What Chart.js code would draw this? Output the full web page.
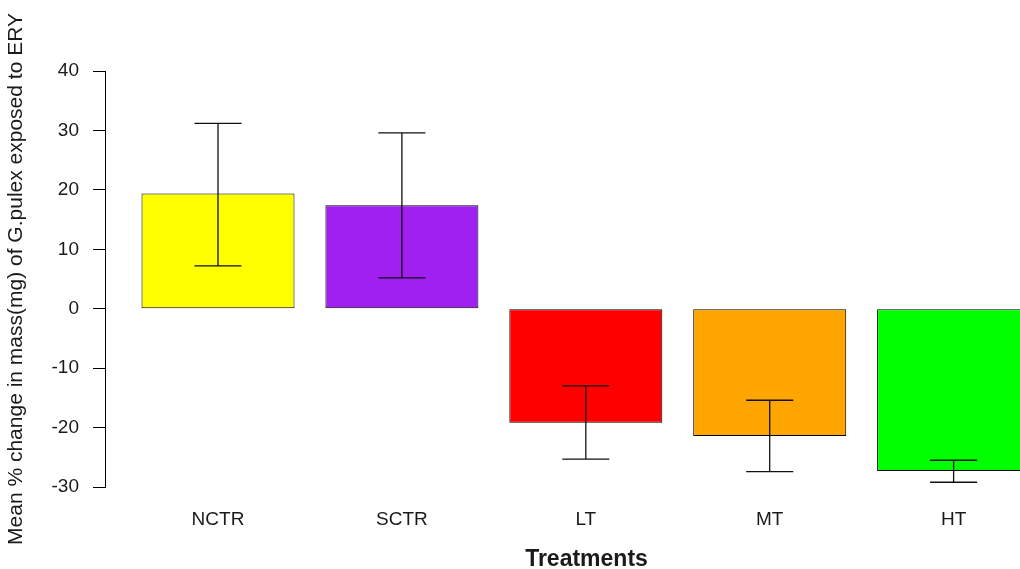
<!DOCTYPE html>
<html>
<head>
<meta charset="utf-8">
<title>Mean % change in mass of G.pulex</title>
<script src="https://cdn.jsdelivr.net/npm/chart.js@4/dist/chart.umd.min.js"></script>
<style>
  html, body { margin: 0; padding: 0; background: #fff; overflow: hidden; width: 1020px; height: 569px; }
  /* the plot region runs past the right edge, like the cropped original */
  #wrap { position: relative; width: 1068px; height: 569px; }
</style>
</head>
<body>
<div id="wrap"><canvas id="chart"></canvas></div>
<script>
const categories = ['NCTR', 'SCTR', 'LT', 'MT', 'HT'];
const means = [19.4, 17.4, -19.2, -21.4, -27.3];
const errHigh = [31.2, 29.6, -13.0, -15.4, -25.5];
const errLow = [7.2, 5.2, -25.3, -27.4, -29.2];
const barColors = ['#FFFF00', '#A020F0', '#FF0000', '#FFA500', '#00FF00'];
const yTicks = { min: -30, max: 40, step: 10 };

const FONT = "'Liberation Sans', Arial, Helvetica, sans-serif";
const CAP_HALF = 0.128; // half width of whisker caps, in category units

// error bars (R arrows with angle=90)
const errorBars = {
  id: 'errorBars',
  afterDatasetsDraw(chart) {
    const { ctx, scales: { x, y } } = chart;
    ctx.save();
    ctx.strokeStyle = '#111';
    ctx.lineWidth = 1.3;
    categories.forEach((c, i) => {
      const px = x.getPixelForValue(i);
      const yHi = y.getPixelForValue(errHigh[i]);
      const yLo = y.getPixelForValue(errLow[i]);
      const l = x.getPixelForValue(i - CAP_HALF);
      const r = x.getPixelForValue(i + CAP_HALF);
      ctx.beginPath();
      ctx.moveTo(px, yHi); ctx.lineTo(px, yLo);
      ctx.moveTo(l, yHi); ctx.lineTo(r, yHi);
      ctx.moveTo(l, yLo); ctx.lineTo(r, yLo);
      ctx.stroke();
    });
    ctx.restore();
  },
};

const ctx = document.getElementById('chart').getContext('2d');
new Chart(ctx, {
  type: 'bar',
  data: {
    datasets: [{
      data: means.map((v, i) => ({ x: i, y: v })),
      backgroundColor: barColors,
      borderColor: '#000',
      borderWidth: 1,
      borderSkipped: false,
      barPercentage: 0.832,
      categoryPercentage: 1,
    }],
  },
  options: {
    responsive: true,
    maintainAspectRatio: false,
    animation: false,
    layout: { padding: { top: 71, right: 0, bottom: 0, left: 0 } },
    plugins: { legend: { display: false }, tooltip: { enabled: false } },
    scales: {
      x: {
        type: 'linear',
        offset: false,
        min: -0.6145,
        max: 4.622,
        grid: { display: false, drawTicks: false },
        border: { display: false },
        afterBuildTicks: (scale) => { scale.ticks = categories.map((c, i) => ({ value: i })); },
        afterFit: (scale) => { scale.height = 82; },
        ticks: {
          autoSkip: false,
          maxRotation: 0,
          padding: 21,
          color: '#1a1a1a',
          font: { family: FONT, size: 19 },
          callback: (v) => categories[v] ?? '',
        },
        title: {
          display: true,
          text: 'Treatments',
          color: '#1a1a1a',
          padding: 0,
          font: { family: FONT, size: 23, weight: 'bold', lineHeight: 0.78 },
        },
      },
      y: {
        min: yTicks.min,
        max: yTicks.max,
        grid: { drawOnChartArea: false, color: '#000', tickLength: 12, lineWidth: 1 },
        border: { display: true, color: '#000', width: 1 },
        afterFit: (scale) => { scale.width = 105; },
        ticks: {
          stepSize: yTicks.step,
          padding: 14,
          color: '#1a1a1a',
          font: { family: FONT, size: 19 },
        },
        title: {
          display: true,
          text: 'Mean % change in mass(mg) of G.pulex exposed to ERY',
          color: '#1a1a1a',
          padding: { top: 4, bottom: 0 },
          font: { family: FONT, size: 21 },
        },
      },
    },
  },
  plugins: [errorBars],
});
</script>
</body>
</html>
